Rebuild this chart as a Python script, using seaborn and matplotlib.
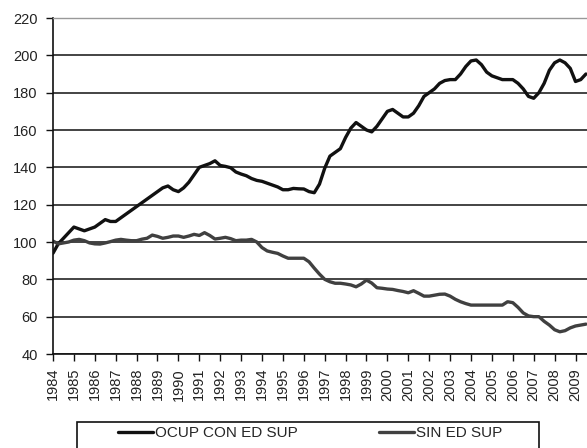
import numpy as np
import pandas as pd
import matplotlib
matplotlib.use("Agg")
import matplotlib.pyplot as plt
import seaborn as sns
from matplotlib.patches import Rectangle

# ---- data (quarterly index, 1984 Q1 .. 2009 Q3) ----
years = list(range(1984, 2010))
year_labels = [str(y) for y in years]

ocup_con_ed_sup = [
    94, 99, 102, 105,
    108, 107, 106, 107,
    108, 110, 112, 111,
    111, 113, 115, 117,
    119, 121, 123, 125,
    127, 129, 130, 128,
    127, 129, 132, 136,
    140, 141, 142, 143.5,
    141, 140.5, 139.8, 137.5,
    136.4, 135.5, 134, 133,
    132.5, 131.5, 130.5, 129.5,
    128, 128, 128.7, 128.5,
    128.4, 127, 126.4, 131,
    139.5, 146, 148, 150,
    156, 161, 164, 162,
    160, 159, 162, 166,
    170, 171, 169, 167,
    167, 169, 173, 178,
    180, 182, 185, 186.5,
    187, 187, 190, 194,
    197, 197.5, 195, 191,
    189, 188, 187, 187,
    187, 185, 182, 178,
    177, 180, 185, 192,
    196, 197.5, 196, 193,
    186, 187, 190,
]

sin_ed_sup = [
    100.5, 99, 99.5, 100,
    101, 101.4, 100.7, 99.5,
    99, 98.9, 99.5, 100.2,
    101, 101.4, 101, 100.7,
    100.7, 101.5, 102, 103.7,
    103, 102, 102.5, 103.2,
    103.2, 102.5, 103.2, 104.1,
    103.5, 105, 103.5, 101.6,
    102, 102.5, 101.8, 100.7,
    101, 101, 101.4, 100,
    97, 95.2, 94.5, 93.9,
    92.5, 91.3, 91.3, 91.3,
    91.3, 89.4, 86, 82.8,
    80, 78.7, 77.9, 77.9,
    77.5, 77, 76, 77.5,
    79.6, 78, 75.5, 75.2,
    74.8, 74.6, 74, 73.5,
    72.8, 73.9, 72.5, 71,
    71, 71.5, 72, 72.1,
    71, 69.3, 68, 67,
    66.2, 66.2, 66.2, 66.2,
    66.2, 66.2, 66.2, 68,
    67.5, 65, 62, 60.4,
    60, 60, 57.5, 55.5,
    53, 51.9, 52.5, 54,
    55, 55.5, 56,
]

series_names = ["OCUP CON ED SUP", "SIN ED SUP"]
yticks = list(range(40, 221, 20))

n = len(ocup_con_ed_sup)
t = np.array([1984 + i / 4 for i in range(n)])
df = pd.DataFrame({
    "t": np.concatenate([t, t]),
    "v": ocup_con_ed_sup + sin_ed_sup,
    "s": [series_names[0]] * n + [series_names[1]] * n,
})

sns.set_style("white")
plt.rcParams["font.family"] = ["Liberation Sans", "DejaVu Sans"]

W, H = 587, 448
fig = plt.figure(figsize=(W / 100, H / 100), dpi=100)
ax_left, ax_right = 53, 587
ax_top, ax_bot = 18, 354
ax = fig.add_axes([ax_left / W, (H - ax_bot) / H, (ax_right - ax_left) / W, (ax_bot - ax_top) / H])

px_per_year = 20.9
ax.set_xlim(1984, 1984 + (ax_right - ax_left) / px_per_year)
ax.set_ylim(40, 220)

sns.lineplot(data=df, x="t", y="v", hue="s", palette=["#111111", "#404040"],
             ax=ax, linewidth=2.4, legend=False, sort=False)
for ln in ax.get_lines():
    ln.set_solid_joinstyle("round")
    ln.set_solid_capstyle("round")

ax.set_yticks(yticks)
ax.set_yticklabels([str(v) for v in yticks], fontsize=10.5, color="#222222")
ax.set_xticks(years)
ax.set_xticklabels(year_labels, rotation=90, fontsize=10.5, color="#222222")
ax.set_xlabel("")
ax.set_ylabel("")

ax.grid(axis="y", color="#111111", linewidth=1.1)
ax.grid(axis="x", visible=False)
gl = ax.get_ygridlines()
gl[-1].set_color("#999999")
ax.set_axisbelow(True)

ax.tick_params(axis="y", direction="out", length=5, width=1, color="#111111", pad=6, left=True)
ax.tick_params(axis="x", direction="out", length=5, width=1, color="#111111", pad=5, bottom=True)

ax.spines["right"].set_visible(False)
ax.spines["top"].set_color("#999999")
ax.spines["top"].set_linewidth(1)
ax.spines["left"].set_color("#111111")
ax.spines["left"].set_linewidth(1.2)
ax.spines["bottom"].set_color("#111111")
ax.spines["bottom"].set_linewidth(1.2)

# legend box (extends past bottom edge as in the reference)
box_l, box_r, box_t = 77, 539, 422
fig.patches.append(Rectangle((box_l / W, -0.1), (box_r - box_l) / W, (H - box_t) / H + 0.1,
                             transform=fig.transFigure, fill=False, edgecolor="#111111",
                             linewidth=1.2))
lines = ax.get_lines()
fig.legend(lines[:2], series_names, loc="center left",
           bbox_to_anchor=(118 / W, (H - 433) / H), ncol=2, frameon=False,
           fontsize=11, handlelength=2.3, handletextpad=0.12, columnspacing=5.3,
           borderpad=0, borderaxespad=0)

fig.savefig("out.png", dpi=100)
